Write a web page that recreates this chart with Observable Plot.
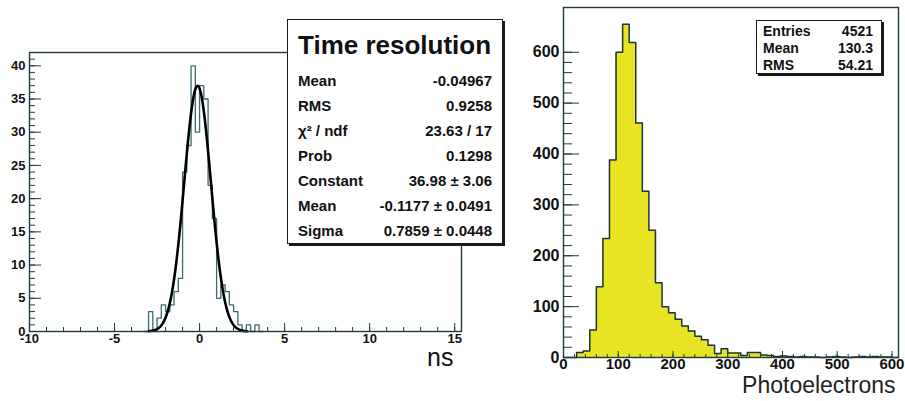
<!DOCTYPE html>
<html><head><meta charset="utf-8">
<script src="https://cdn.jsdelivr.net/npm/d3@7"></script>
<script src="https://cdn.jsdelivr.net/npm/@observablehq/plot@0.6"></script>
<style>
body{margin:0;background:#fff;}
#wrap{position:relative;width:905px;height:401px;overflow:hidden;font-family:"Liberation Sans",Arial,sans-serif;}
#left,#right{position:absolute;top:0;}
#left{left:0;} #right{left:520px;}
.stats{position:absolute;background:#fff;border:1.5px solid #1a1a1a;box-shadow:2px 2px 0 #1a1a1a;font-weight:bold;color:#111;box-sizing:border-box;}
.row{display:flex;justify-content:space-between;white-space:nowrap;}
</style></head><body>
<div id="wrap"><div id="left"></div><div id="right"></div>
<div class="stats" id="ls"></div><div class="stats" id="rs"></div></div>
<script>
// ---------- data: time resolution (left) ----------
const timeBinLow = [-3.25,-3,-2.75,-2.5,-2.25,-2,-1.75,-1.5,-1.25,-1,-0.75,-0.5,-0.25,0,0.25,0.5,0.75,1,1.25,1.5,1.75,2,2.25,2.5,2.75,3,3.25,3.5];
const timeCounts = [0,3,0,2,4,3,4,6,8,24,28,40,30,37,35,22,17,5,7,6,4,3,1,0,1,0,1,0];
const timeXTicks = [-10,-5,0,5,10,15];
const timeYTicks = [0,5,10,15,20,25,30,35,40];
const timeXLabel = "ns";
const fitConstant = 36.98, fitMean = -0.1177, fitSigma = 0.7859;
const fitRange = [-3, 2.8];
const timeStatsTitle = "Time resolution";
const timeStatsLabels = ["Mean","RMS","χ² / ndf","Prob","Constant","Mean","Sigma"];
const timeStatsValues = ["-0.04967","0.9258","23.63 / 17","0.1298","36.98 ± 3.06","-0.1177 ± 0.0491","0.7859 ± 0.0448"];

// ---------- data: photoelectrons (right) ----------
const peBinWidth = 12;
const peCounts = [0,0,10,13,54,139,234,388,600,655,619,461,327,250,147,100,88,75,62,52,42,35,24,8,17,9,9,4,10,10,5,4,2,3,2,1,2,1,1,0,1,2,1,0,1,2,1,2,1,1,0];
const peXTicks = [0,100,200,300,400,500,600];
const peYTicks = [0,100,200,300,400,500,600];
const peXLabel = "Photoelectrons";
const peStatsLabels = ["Entries","Mean","RMS"];
const peStatsValues = ["4521","130.3","54.21"];

// ---------- styles ----------
const frameColor = "#213a3e";
const font = "Liberation Sans, Arial, sans-serif";

// ---------- left plot ----------
const L = {w:520,h:401,ml:29,mr:59,mt:52,mb:70};
const lInnerH = L.h-L.mt-L.mb, lInnerW = L.w-L.ml-L.mr;
const timeW = timeBinLow[1]-timeBinLow[0];
const timeSteps = timeBinLow.map((x,i)=>({x,y:timeCounts[i]})).concat([{x:timeBinLow[timeBinLow.length-1]+timeW,y:timeCounts[timeCounts.length-1]}]);
const fitPts = d3.range(fitRange[0], fitRange[1]+1e-9, 0.02).map(x=>({x, y: fitConstant*Math.exp(-0.5*((x-fitMean)/fitSigma)**2)}));
const timeMinorX = d3.range(-10,16,1), timeMinorY = d3.range(0,43,1);

const left = Plot.plot({
  width:L.w, height:L.h, marginLeft:L.ml, marginRight:L.mr, marginTop:L.mt, marginBottom:L.mb,
  x:{domain:[-10,15.4]}, y:{domain:[0,42]},
  style:{background:"transparent", fontFamily:font, color:"#111", overflow:"visible"},
  marks:[
    Plot.tickX(timeMinorX,{x:d=>d, stroke:frameColor, insetTop:lInnerH-4}),
    Plot.tickX(timeXTicks,{x:d=>d, stroke:frameColor, insetTop:lInnerH-8}),
    Plot.tickY(timeMinorY,{y:d=>d, stroke:frameColor, insetRight:lInnerW-6}),
    Plot.tickY(timeYTicks,{y:d=>d, stroke:frameColor, insetRight:lInnerW-12}),
    Plot.line(timeSteps,{x:"x", y:"y", curve:"step-after", stroke:"#3b6a70", strokeWidth:1.3}),
    Plot.line(fitPts,{x:"x", y:"y", stroke:"#000", strokeWidth:2.6}),
    Plot.frame({stroke:frameColor, strokeWidth:1.4}),
    Plot.axisX(timeXTicks,{tickSize:0, tickPadding:2, label:null, tickFormat:d=>String(d), fontSize:13, fontWeight:"bold"}),
    Plot.axisY(timeYTicks,{tickSize:0, tickPadding:4, label:null, tickFormat:d=>String(d), fontSize:13, fontWeight:"bold"}),
    Plot.text([timeXLabel],{text:d=>d, frameAnchor:"bottom-right", textAnchor:"end", lineAnchor:"bottom", dx:-8, dy:34, fontSize:25})
  ]
});
document.getElementById("left").appendChild(left);

// ---------- right plot ----------
const R = {w:385,h:401,ml:43,mr:7,mt:7,mb:44};
const rInnerH = R.h-R.mt-R.mb, rInnerW = R.w-R.ml-R.mr;
const peSteps = peCounts.map((y,i)=>({x:i*peBinWidth, y})).concat([{x:peCounts.length*peBinWidth, y:peCounts[peCounts.length-1]}]);
const peMinor = d3.range(0,620,20);
const right = Plot.plot({
  width:R.w, height:R.h, marginLeft:R.ml, marginRight:R.mr, marginTop:R.mt, marginBottom:R.mb,
  x:{domain:[0,612]}, y:{domain:[0,688]},
  style:{background:"transparent", fontFamily:font, color:"#111", overflow:"visible"},
  marks:[
    Plot.tickY(peMinor.filter(v=>v<=688),{y:d=>d, stroke:frameColor, insetRight:rInnerW-9}),
    Plot.tickY(peYTicks,{y:d=>d, stroke:frameColor, insetRight:rInnerW-16}),
    Plot.areaY(peSteps,{x:"x", y:"y", curve:"step-after", fill:"#e8e423"}),
    Plot.line(peSteps,{x:"x", y:"y", curve:"step-after", stroke:"#1b3436", strokeWidth:1.5}),
    Plot.tickX(peMinor,{x:d=>d, stroke:frameColor, insetTop:rInnerH-3}),
    Plot.tickX(peXTicks,{x:d=>d, stroke:frameColor, insetTop:rInnerH-6}),
    Plot.frame({stroke:frameColor, strokeWidth:1.4}),
    Plot.axisX(peXTicks,{tickSize:0, tickPadding:1, label:null, tickFormat:d=>String(d), fontSize:15, fontWeight:"bold"}),
    Plot.axisY(peYTicks,{tickSize:0, tickPadding:4, label:null, tickFormat:d=>String(d), fontSize:16, fontWeight:"bold"}),
    Plot.text([peXLabel],{text:d=>d, frameAnchor:"bottom-right", textAnchor:"end", lineAnchor:"middle", dx:-3, dy:28, fontSize:23, fill:"#222"})
  ]
});
document.getElementById("right").appendChild(right);

// ---------- stats boxes ----------
const ls = document.getElementById("ls");
Object.assign(ls.style,{left:"287px", top:"19px", width:"216px", height:"225px", padding:"10px 10px 0 10px"});
let html = `<div style="font-size:26px;line-height:30px;margin-bottom:8px;">${timeStatsTitle}</div>`;
timeStatsLabels.forEach((lab,i)=>{
  html += `<div class="row" style="font-size:15px;line-height:25px;"><span>${lab}</span><span>${timeStatsValues[i]}</span></div>`;
});
ls.innerHTML = html;

const rs = document.getElementById("rs");
Object.assign(rs.style,{left:"756px", top:"20px", width:"126px", height:"54px", padding:"2px 8px 0 6px"});
rs.innerHTML = peStatsLabels.map((lab,i)=>`<div class="row" style="font-size:14px;line-height:17px;"><span>${lab}</span><span>${peStatsValues[i]}</span></div>`).join("");
</script>
</body></html>
